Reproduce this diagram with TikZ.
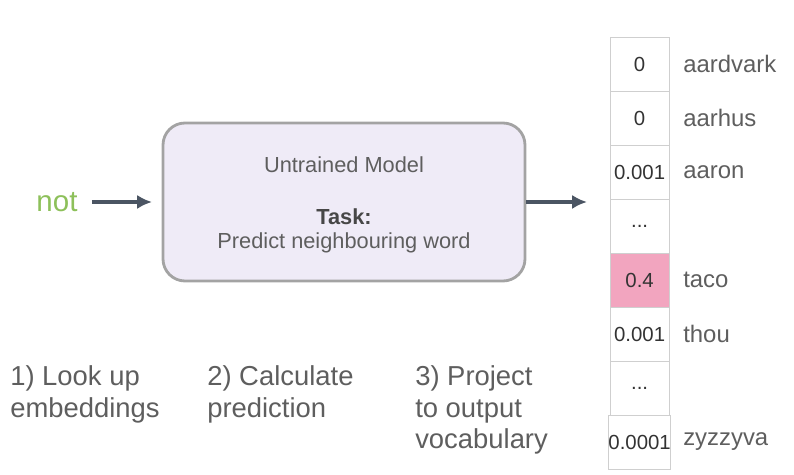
\documentclass[tikz,border=0pt]{standalone}
\usepackage{fontspec}
\setmainfont{Liberation Sans}
\usepackage{tikz}
\usetikzlibrary{arrows.meta, positioning, shapes}

\definecolor{txtgray}{HTML}{5E5E5E}
\definecolor{numgray}{HTML}{333333}
\definecolor{arrgray}{HTML}{4B5563}
\definecolor{boxfill}{HTML}{EFEBF7}
\definecolor{boxline}{HTML}{A3A3A3}
\definecolor{cellline}{HTML}{CFCFCF}
\definecolor{pinkfill}{HTML}{F2A5BF}
\definecolor{notgreen}{HTML}{8DC05A}

\tikzset{
	cell/.style={draw=cellline, line width=0.6pt, minimum width=1.475cm, minimum height=1.35cm, inner sep=0pt, text=numgray, font=\fontsize{14.5}{17}\selectfont},
	word/.style={anchor=west, inner sep=0pt, text=txtgray, font=\fontsize{17}{20}\selectfont},
	boxtext/.style={text=txtgray, font=\fontsize{15.5}{18}\selectfont},
	steplabel/.style={anchor=north west, align=left, inner sep=0pt, text=txtgray, font=\fontsize{19.5}{22.7}\selectfont},
	flow/.style={draw=arrgray, line width=2.4pt, -{Latex[length=10.5pt,width=10pt]}}
}

\begin{document}
\begin{tikzpicture}
	\useasboundingbox (0,0) rectangle (19.85,11.875);

	% input word and model
	\node[text=notgreen, font=\fontsize{21}{24}\selectfont, inner sep=0pt] (not) at (1.425,6.825) {not};
	\node[draw=boxline, line width=2pt, fill=boxfill, rounded corners=0.55cm, minimum width=9.05cm, minimum height=3.95cm] (model) at (8.6,6.825) {};
	\node[boxtext] (title) at (8.6,7.75) {Untrained Model};
	\node[boxtext, text=numgray!90, font=\bfseries\fontsize{15.5}{18}\selectfont] (task) at (8.6,6.45) {Task:};
	\node[boxtext] (pred) at (8.6,5.8) {Predict neighbouring word};

	% output vocabulary
	\node[cell] (c1) at (15.99,10.275) {0};
	\node[cell] (c2) at (15.99,8.925) {0};
	\node[cell] (c3) at (15.99,7.575) {0.001};
	\node[cell] (c4) at (15.99,6.225) {...};
	\node[cell, fill=pinkfill] (c5) at (15.99,4.875) {0.4};
	\node[cell] (c6) at (15.99,3.525) {0.001};
	\node[cell] (c7) at (15.99,2.175) {...};
	\node[cell] (c8) at (15.99,0.825) {0.0001};

	\node[word] (w1) at (17.075,10.275) {aardvark};
	\node[word] (w2) at (17.075,8.925) {aarhus};
	\node[word] (w3) at (17.075,7.575) {aaron};
	\node[word] (w5) at (17.075,4.875) {taco};
	\node[word] (w6) at (17.075,3.525) {thou};
	\node[word] (w8) at (17.075,0.825) {zyzzyva};

	\coordinate (in) at (3.8,6.825);
	\coordinate (out) at (14.675,6.825);
	\draw[flow] (not.east) ++(0.35,0) -- (in);
	\draw[flow] (model.east) -- (out);

	% steps
	\node[steplabel] (s1) at (0.25,2.75) {1) Look up\\embeddings};
	\node[steplabel] (s2) at (5.175,2.75) {2) Calculate\\prediction};
	\node[steplabel] (s3) at (10.375,2.75) {3) Project\\to output\\vocabulary};
\end{tikzpicture}
\end{document}
